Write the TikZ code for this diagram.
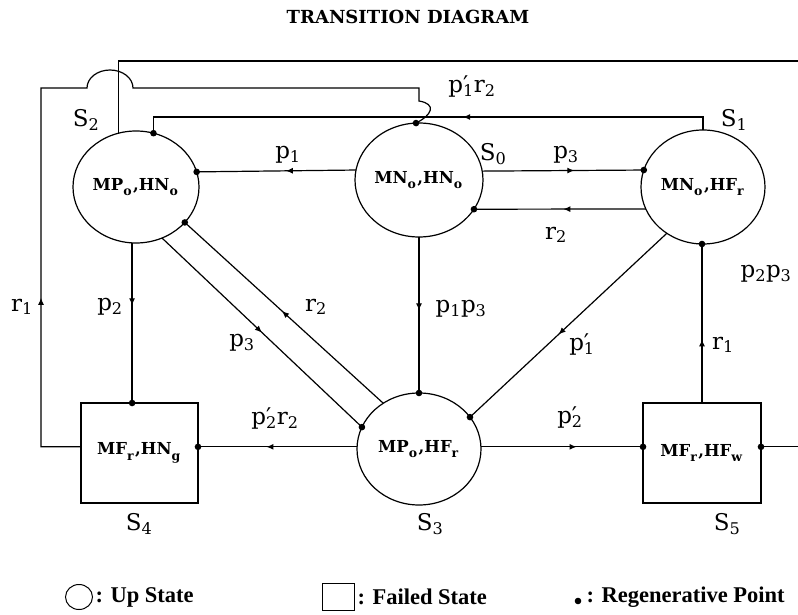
\documentclass[tikz,border=0pt]{standalone}
\usepackage{fontspec}
\setmainfont{DejaVu Serif}
\newfontfamily\legendfont{Liberation Serif}
\usetikzlibrary{arrows.meta,calc,positioning,shapes.geometric,decorations.markings}

\tikzset{
  state/.style={draw,ellipse,line width=1.2pt,inner sep=0pt,outer sep=0pt,font=\fontsize{16.5}{18}\selectfont\bfseries},
  failed/.style={draw,rectangle,line width=1.2pt,inner sep=0pt,outer sep=0pt,minimum width=117pt,minimum height=100pt,font=\fontsize{16.5}{18}\selectfont\bfseries},
  lbl/.style={font=\fontsize{23}{26}\selectfont},
  legend/.style={font=\fontsize{22.5}{24}\selectfont\legendfont\bfseries,anchor=west,inner sep=0pt},
  mid/.style={postaction={decorate},decoration={markings,mark=at position #1 with {\arrow{Latex[length=7pt,width=6pt]}}}},
}
\newcommand{\prm}[2]{#1\rlap{′}\textsubscript{#2}}
\newcommand{\nsub}[1]{\raisebox{-0.32em}{\fontsize{12.5}{13}\selectfont #1}\kern1.5pt}

\begin{document}
\begin{tikzpicture}[x=1pt,y=1pt,line width=1.2pt]
\useasboundingbox (0,0) rectangle (798,614);
\clip (0,0) rectangle (798,614);
\node[font=\fontsize{18}{20}\selectfont\bfseries] (title) at (408,597) {TRANSITION DIAGRAM};

% states
\node[state,minimum width=126pt,minimum height=112pt] (S2) at (136,427) {MP\nsub{o},HN\nsub{o}};
\node[state,minimum width=128pt,minimum height=114pt] (S0) at (419,434) {MN\nsub{o},HN\nsub{o}};
\node[state,minimum width=124pt,minimum height=114pt] (S1) at (703,427) {MN\nsub{o},HF\nsub{r}};
\node[state,minimum width=124pt,minimum height=112pt] (S3) at (419,165) {MP\nsub{o},HF\nsub{r}};
\node[failed] (S4) at (139.5,161) {MF\nsub{r},HN\nsub{g}};
\node[failed,minimum width=118pt] (S5) at (702,161) {MF\nsub{r},HF\nsub{w}};

\node[lbl] (nS2) at (86,494) {S\textsubscript{2}};
\node[lbl] (nS0) at (493,460) {S\textsubscript{0}};
\node[lbl] (nS1) at (734,494) {S\textsubscript{1}};
\node[lbl] (nS3) at (430,90) {S\textsubscript{3}};
\node[lbl] (nS4) at (139,90) {S\textsubscript{4}};
\node[lbl] (nS5) at (727,90) {S\textsubscript{5}};

% transitions
\draw[mid=0.44] (S0.171.9) -- (S2.14.8);
\draw[mid=0.57] (S0.8.1) -- (S1.164.9);
\draw[mid=0.48] (S1.201) -- (S0.332.2);
\draw[mid=0.47] (S0.south) -- (S3.north);
\draw[mid=0.55] (S1.232) -- (S3.32);
\draw[mid=0.39] (S2.266) -- (S2.266 |- S4.north);
\draw[mid=0.5] (S2.297.9) -- (S3.159.3);
\draw[mid=0.51] (S3.128.5) -- (S2.324.5);
\draw[mid=0.57] (S3.178) -- (S4.east |- S3.178);
\draw[mid=0.59] (S3.2) -- (S5.west |- S3.2);
\draw[mid=0.4] (S5.north) -- (S5.north |- S1.south);
\draw[mid=253pt] (S1.north) -- ++(0,13) -| (S2.72.5);
\draw[mid=964pt] (S2.108.5) |- (801,553) |- (S5.east |- S3.2);
\draw[mid=189pt] (S4.west |- S3.178) -| (41,526) -- (87,526)
  arc[start angle=180,end angle=0,x radius=23,y radius=18] -- (419,526) -- (419,513)
  .. controls +(18,-3) and +(16,8) .. (S0.93);

% regenerative points
\foreach \p in {S2.14.8,S2.72.5,S2.324.5,S0.93,S0.332.2,S1.164.9}
  \fill (\p) circle (3.3pt);
\fill (S2.266 |- S4.north) circle (3.3pt);
\fill (S5.north |- S1.south) circle (3.3pt);
\fill (S3.north) circle (3.3pt);
\fill (S3.32) circle (3.3pt);
\fill (S3.159.3) circle (3.3pt);
\fill (S4.east |- S3.178) circle (3.3pt);
\fill (S5.west |- S3.2) circle (3.3pt);
\fill (S5.east |- S3.2) circle (3.3pt);

% rates
\node[lbl] (lp1) at (288,459) {p\textsubscript{1}};
\node[lbl] (lp3a) at (566,459) {p\textsubscript{3}};
\node[lbl] (lr2a) at (556,379) {r\textsubscript{2}};
\node[lbl] (lp1p3) at (461,305) {p\textsubscript{1}p\textsubscript{3}};
\node[lbl] (lp2p3) at (766,340) {p\textsubscript{2}p\textsubscript{3}};
\node[lbl] (lr1a) at (22,307) {r\textsubscript{1}};
\node[lbl] (lp2) at (110,307) {p\textsubscript{2}};
\node[lbl] (lr2b) at (316,307) {r\textsubscript{2}};
\node[lbl] (lp3b) at (242,271) {p\textsubscript{3}};
\node[lbl] (lp1d) at (582,269) {\prm{p}{1}};
\node[lbl] (lr1b) at (723,269) {r\textsubscript{1}};
\node[lbl] (lp2r2) at (275,195) {\prm{p}{2}r\textsubscript{2}};
\node[lbl] (lp2d) at (570,196) {\prm{p}{2}};
\node[lbl] (lp1r2) at (472,527) {\prm{p}{1}r\textsubscript{2}};

% legend
\node[draw,ellipse,line width=1pt,minimum width=27pt,minimum height=25pt,inner sep=0pt] (kup) at (79,17) {};
\node[legend] (tup) at (95,17) {: Up State};
\node[draw,line width=1pt,minimum width=32pt,minimum height=27pt,inner sep=0pt] (kfail) at (338,17) {};
\node[legend] (tfail) at (357,17) {: Failed State};
\fill (578,13) circle (3.3pt);
\node[legend] (treg) at (586,17) {: Regenerative Point};
\end{tikzpicture}
\end{document}
